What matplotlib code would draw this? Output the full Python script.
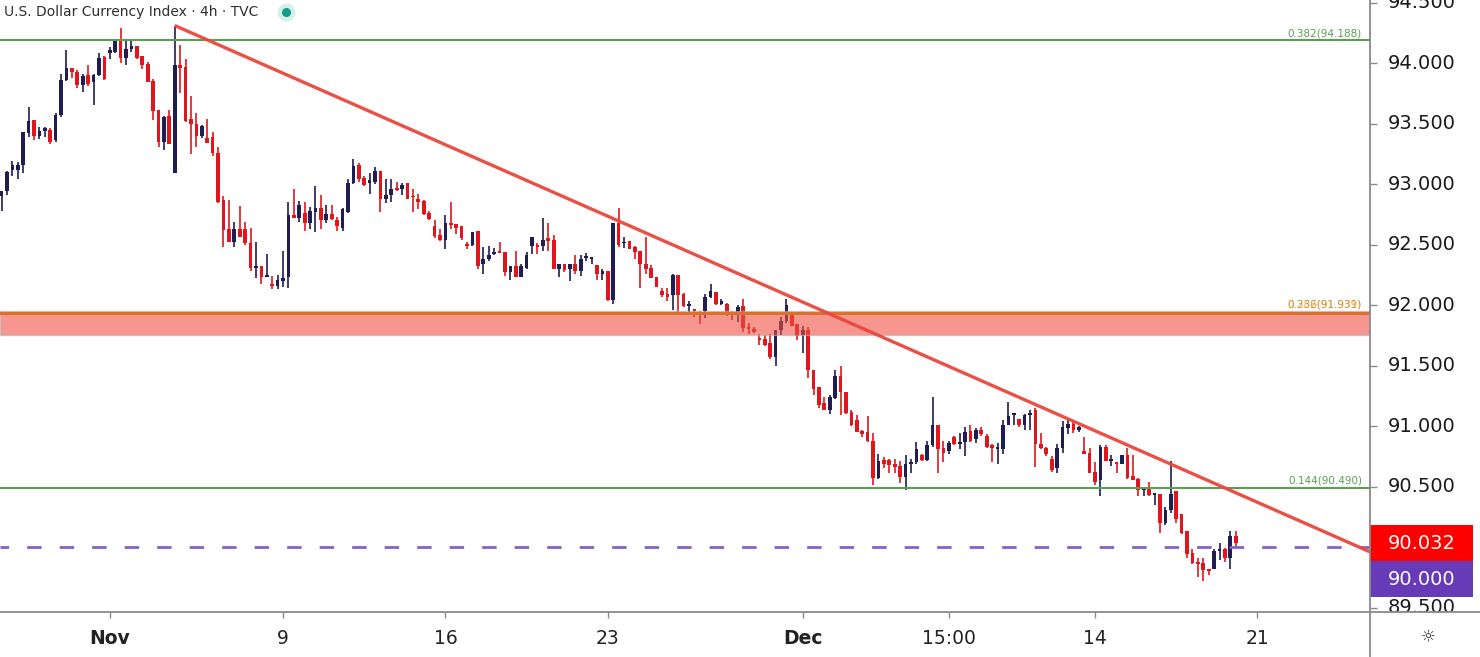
import matplotlib.pyplot as plt
import matplotlib.transforms as mtransforms
from matplotlib.lines import Line2D
from matplotlib.patches import Rectangle

# 4h candles, U.S. Dollar Currency Index
opens = [92.90, 92.94, 93.12, 93.12, 93.16, 93.42, 93.53, 93.40, 93.44, 93.45,
         93.36, 93.57, 93.86, 93.96, 93.93, 93.82, 93.90, 93.84, 93.90, 94.05,
         94.08, 94.09, 94.19, 94.04, 94.12, 94.14, 94.06, 93.99, 93.85, 93.61,
         93.35, 93.56, 93.09, 93.98, 93.97, 93.54, 93.50, 93.40, 93.38, 93.39,
         93.26, 92.87, 92.63, 92.52, 92.63, 92.63, 92.51, 92.31, 92.32, 92.23,
         92.17, 92.16, 92.20, 92.23, 92.74, 92.72, 92.76, 92.68, 92.77, 92.80,
         92.70, 92.75, 92.70, 92.64, 92.77, 93.01, 93.16, 93.05, 93.01, 93.02,
         93.11, 92.88, 92.91, 92.96, 92.96, 93.01, 92.90, 92.88, 92.86, 92.76,
         92.65, 92.58, 92.54, 92.68, 92.67, 92.65, 92.50, 92.50, 92.61, 92.34,
         92.38, 92.42, 92.45, 92.44, 92.27, 92.32, 92.23, 92.31, 92.49, 92.50,
         92.49, 92.55, 92.54, 92.30, 92.34, 92.30, 92.34, 92.28, 92.39, 92.38,
         92.33, 92.26, 92.28, 92.04, 92.68, 92.51, 92.53, 92.48, 92.45, 92.34,
         92.31, 92.23, 92.12, 92.09, 92.08, 92.25, 92.09, 91.99, 91.96, 91.94,
         91.95, 92.07, 92.11, 92.01, 92.01, 91.93, 91.92, 91.99, 91.82, 91.80,
         91.73, 91.72, 91.69, 91.57, 91.79, 91.87, 91.94, 91.84, 91.75, 91.79,
         91.46, 91.32, 91.19, 91.13, 91.23, 91.41, 91.28, 91.12, 91.05, 90.96,
         90.95, 90.88, 90.57, 90.72, 90.72, 90.69, 90.67, 90.58, 90.69, 90.70,
         90.76, 90.72, 90.84, 91.01, 90.82, 90.79, 90.91, 90.85, 90.87, 90.96,
         90.89, 90.97, 90.92, 90.84, 90.81, 90.81, 91.01, 91.09, 91.06, 91.01,
         91.09, 91.13, 90.85, 90.82, 90.73, 90.65, 90.82, 90.98, 91.02, 90.97,
         90.79, 90.78, 90.62, 90.55, 90.83, 90.71, 90.70, 90.69, 90.76, 90.59,
         90.56, 90.47, 90.49, 90.43, 90.44, 90.20, 90.31, 90.46, 90.27, 90.13,
         89.95, 89.88, 89.87, 89.82, 89.82, 89.97, 89.98, 89.91, 90.09]
highs = [92.94, 93.11, 93.19, 93.18, 93.43, 93.64, 93.53, 93.47, 93.47, 93.46,
         93.59, 93.91, 94.11, 93.96, 93.94, 93.91, 93.98, 93.91, 94.08, 94.06,
         94.13, 94.20, 94.29, 94.19, 94.20, 94.14, 94.06, 94.01, 93.87, 93.61,
         93.56, 93.61, 94.31, 94.15, 94.03, 93.73, 93.59, 93.49, 93.54, 93.43,
         93.31, 92.90, 92.87, 92.69, 92.82, 92.69, 92.64, 92.52, 92.32, 92.42,
         92.24, 92.25, 92.45, 92.85, 92.96, 92.86, 92.85, 92.81, 92.98, 92.91,
         92.83, 92.83, 92.73, 92.80, 93.04, 93.21, 93.17, 93.07, 93.09, 93.14,
         93.11, 93.04, 93.04, 93.02, 93.01, 93.01, 92.96, 92.92, 92.87, 92.78,
         92.70, 92.63, 92.74, 92.85, 92.67, 92.65, 92.52, 92.60, 92.61, 92.48,
         92.49, 92.47, 92.52, 92.44, 92.32, 92.45, 92.34, 92.44, 92.56, 92.51,
         92.72, 92.68, 92.58, 92.34, 92.34, 92.34, 92.41, 92.41, 92.43, 92.40,
         92.33, 92.30, 92.28, 92.68, 92.80, 92.56, 92.53, 92.49, 92.45, 92.56,
         92.33, 92.23, 92.14, 92.14, 92.26, 92.25, 92.10, 92.03, 91.96, 91.95,
         92.09, 92.17, 92.11, 92.05, 92.02, 91.95, 92.00, 92.05, 91.85, 91.82,
         91.76, 91.75, 91.76, 91.79, 91.90, 92.05, 91.94, 91.84, 91.83, 91.82,
         91.46, 91.32, 91.24, 91.26, 91.46, 91.50, 91.28, 91.13, 91.09, 90.97,
         91.08, 90.94, 90.77, 90.74, 90.73, 90.73, 90.71, 90.76, 90.73, 90.87,
         90.77, 90.88, 91.24, 91.01, 90.88, 90.88, 90.92, 90.94, 90.99, 91.01,
         90.98, 90.99, 90.93, 90.85, 90.86, 91.05, 91.20, 91.11, 91.06, 91.10,
         91.13, 91.15, 90.94, 90.83, 90.75, 90.85, 91.04, 91.05, 91.04, 91.00,
         90.91, 90.82, 90.70, 90.84, 90.84, 90.76, 90.70, 90.76, 90.82, 90.76,
         90.57, 90.50, 90.54, 90.45, 90.44, 90.33, 90.71, 90.46, 90.27, 90.13,
         89.98, 89.91, 89.91, 89.82, 89.98, 90.03, 89.99, 90.13, 90.13]
lows = [92.78, 92.91, 93.07, 93.04, 93.09, 93.39, 93.36, 93.37, 93.39, 93.33,
        93.35, 93.55, 93.85, 93.88, 93.79, 93.76, 93.81, 93.65, 93.89, 93.86,
        94.03, 94.08, 94.00, 93.98, 94.09, 94.03, 93.95, 93.84, 93.53, 93.31,
        93.28, 93.33, 93.09, 93.75, 93.51, 93.25, 93.31, 93.38, 93.34, 93.23,
        92.84, 92.48, 92.52, 92.48, 92.56, 92.50, 92.28, 92.22, 92.17, 92.23,
        92.13, 92.13, 92.15, 92.14, 92.72, 92.69, 92.61, 92.63, 92.60, 92.63,
        92.68, 92.70, 92.61, 92.61, 92.76, 93.00, 93.02, 92.98, 92.92, 93.00,
        92.77, 92.84, 92.85, 92.94, 92.91, 92.88, 92.77, 92.79, 92.74, 92.70,
        92.55, 92.53, 92.46, 92.63, 92.59, 92.54, 92.46, 92.49, 92.30, 92.26,
        92.36, 92.41, 92.43, 92.24, 92.21, 92.23, 92.23, 92.30, 92.42, 92.42,
        92.45, 92.45, 92.30, 92.23, 92.27, 92.20, 92.26, 92.24, 92.36, 92.34,
        92.21, 92.21, 92.03, 92.01, 92.48, 92.47, 92.46, 92.38, 92.14, 92.26,
        92.22, 92.15, 92.07, 92.03, 91.96, 91.93, 91.98, 91.93, 91.90, 91.84,
        91.89, 92.06, 92.00, 92.00, 91.91, 91.88, 91.86, 91.78, 91.76, 91.77,
        91.67, 91.66, 91.55, 91.50, 91.75, 91.85, 91.83, 91.71, 91.60, 91.40,
        91.26, 91.15, 91.13, 91.10, 91.22, 91.09, 91.10, 91.00, 90.95, 90.91,
        90.87, 90.51, 90.56, 90.65, 90.61, 90.61, 90.53, 90.47, 90.61, 90.69,
        90.71, 90.71, 90.83, 90.61, 90.70, 90.77, 90.84, 90.81, 90.75, 90.87,
        90.86, 90.92, 90.82, 90.70, 90.69, 90.77, 91.01, 91.01, 90.99, 90.97,
        90.97, 90.66, 90.81, 90.75, 90.62, 90.61, 90.78, 90.93, 90.94, 90.95,
        90.77, 90.61, 90.51, 90.42, 90.71, 90.67, 90.61, 90.69, 90.56, 90.55,
        90.42, 90.42, 90.42, 90.35, 90.12, 90.18, 90.28, 90.20, 90.11, 89.91,
        89.86, 89.75, 89.72, 89.77, 89.82, 89.89, 89.88, 89.82, 89.99]
closes = [92.94, 93.10, 93.16, 93.16, 93.43, 93.52, 93.40, 93.44, 93.46, 93.35,
          93.57, 93.86, 93.96, 93.93, 93.82, 93.89, 93.83, 93.90, 94.04, 93.87,
          94.11, 94.19, 94.04, 94.12, 94.14, 94.04, 93.98, 93.84, 93.60, 93.35,
          93.55, 93.33, 93.98, 93.96, 93.52, 93.50, 93.40, 93.48, 93.34, 93.26,
          92.85, 92.62, 92.52, 92.63, 92.56, 92.51, 92.31, 92.32, 92.23, 92.24,
          92.16, 92.21, 92.22, 92.74, 92.72, 92.83, 92.68, 92.78, 92.80, 92.70,
          92.75, 92.71, 92.65, 92.79, 93.01, 93.15, 93.04, 92.99, 93.03, 93.11,
          92.88, 92.91, 92.96, 92.95, 92.99, 92.88, 92.89, 92.85, 92.75, 92.71,
          92.57, 92.54, 92.68, 92.66, 92.64, 92.55, 92.49, 92.60, 92.32, 92.38,
          92.41, 92.44, 92.43, 92.27, 92.32, 92.23, 92.32, 92.41, 92.56, 92.48,
          92.54, 92.53, 92.30, 92.34, 92.29, 92.34, 92.28, 92.38, 92.40, 92.40,
          92.26, 92.28, 92.04, 92.68, 92.50, 92.52, 92.46, 92.44, 92.34, 92.30,
          92.22, 92.15, 92.08, 92.07, 92.25, 92.08, 91.99, 92.00, 91.95, 91.93,
          92.07, 92.12, 92.01, 92.03, 91.92, 91.92, 91.98, 91.81, 91.80, 91.78,
          91.71, 91.67, 91.57, 91.79, 91.87, 92.00, 91.83, 91.74, 91.79, 91.46,
          91.31, 91.17, 91.13, 91.24, 91.41, 91.28, 91.11, 91.01, 90.95, 90.93,
          90.88, 90.57, 90.71, 90.69, 90.68, 90.66, 90.58, 90.69, 90.70, 90.81,
          90.72, 90.84, 91.01, 90.81, 90.78, 90.86, 90.85, 90.87, 90.95, 90.88,
          90.97, 90.93, 90.83, 90.82, 90.82, 91.01, 91.08, 91.10, 91.01, 91.09,
          91.11, 90.85, 90.82, 90.77, 90.64, 90.82, 90.99, 91.02, 90.97, 90.99,
          90.77, 90.61, 90.54, 90.83, 90.71, 90.72, 90.69, 90.76, 90.57, 90.55,
          90.47, 90.49, 90.43, 90.44, 90.20, 90.31, 90.44, 90.23, 90.12, 89.94,
          89.87, 89.86, 89.81, 89.80, 89.97, 89.98, 89.91, 90.09, 90.032]

# time axis (candle index of each label)
tick_pos = [20, 52, 82, 112, 148, 175, 202, 232]
tick_labels = ["Nov", "9", "16", "23", "Dec", "15:00", "14", "21"]
bold_labels = ["Nov", "Dec"]

price_ticks = [89.5, 90.0, 90.5, 91.0, 91.5, 92.0, 92.5, 93.0, 93.5, 94.0, 94.5]

# drawings on the chart
fib_levels = [94.188, 90.490]
fib_texts = ["0.382(94.188)", "0.144(90.490)"]
zone_fib_levels = [91.939, 91.931]
zone_fib_texts = ["0.382(91.939)", "0.236(91.931)"]
zone_low, zone_high = 91.752, 91.950
round_level = 90.000
trend_x = [32, 252.8]
trend_y = [94.31, 89.96]
last_price = closes[-1]

UP = "#201d52"
DOWN = "#e0161c"
GRID = "#8a8a8a"

W, H = 1480, 657
fig = plt.figure(figsize=(W / 100, H / 100), dpi=100)
fig.patch.set_facecolor("white")
ax = fig.add_axes([0, 45 / H, 1370 / W, 612 / H])
pax = fig.add_axes([1370 / W, 45 / H, 110 / W, 612 / H])

ymin, ymax = 89.463, 94.521
ax.set_xlim(-0.28, 252.8)
ax.set_ylim(ymin, ymax)

# candles
idx = list(range(len(closes)))
cols = [UP if c >= o else DOWN for o, c in zip(opens, closes)]
ax.vlines(idx, lows, highs, colors=cols, lw=1.2, zorder=2)
bottoms = [min(o, c) for o, c in zip(opens, closes)]
heights = [max(abs(c - o), 0.015) for o, c in zip(opens, closes)]
ax.bar(idx, heights, bottom=bottoms, width=0.68, color=cols, linewidth=0, zorder=3)

# fib lines
green = "#5a9f52"
for lvl, txt in zip(fib_levels, fib_texts):
    ax.axhline(lvl, color=green, lw=1.5, zorder=4)
    ax.annotate(txt, xy=(1362 / 1370, lvl), xycoords=("axes fraction", "data"),
                xytext=(0, 1.5), textcoords="offset points", ha="right", va="bottom",
                fontsize=7.5, color=green)

# support zone
ax.axhspan(zone_low, zone_high, facecolor="#f25044", alpha=0.6, edgecolor="#b5b5b5",
           lw=1.0, zorder=5)
ax.axhline(zone_fib_levels[1], color="#d9722c", lw=2.2, zorder=6)
for lvl, txt, c in zip(zone_fib_levels, zone_fib_texts, ["#d9a520", "#e08a2c"]):
    ax.annotate(txt, xy=(1362 / 1370, zone_high), xycoords=("axes fraction", "data"),
                xytext=(0, 1.0), textcoords="offset points", ha="right", va="bottom",
                fontsize=7.5, color=c, alpha=0.85)

# round number
ax.axhline(round_level, color="#8660c8", lw=2.0, linestyle=(2.1, (5.2, 6.5)), zorder=4)

# trendline
ax.plot(trend_x, trend_y, color="#e8473d", lw=2.4, alpha=0.95, zorder=7,
        solid_capstyle="butt")

# axes styling
for sp in ax.spines.values():
    sp.set_visible(False)
ax.set_yticks([])
ax.set_xticks(tick_pos)
ax.set_xticklabels(tick_labels, fontsize=13.5, color="#222222")
for lab in ax.get_xticklabels():
    if lab.get_text() in bold_labels:
        lab.set_fontweight("bold")
ax.tick_params(axis="x", direction="out", length=4, width=1, color=GRID, pad=8)

# price scale
pax.set_ylim(ymin, ymax)
pax.set_xlim(0, 1)
for sp in pax.spines.values():
    sp.set_visible(False)
pax.set_xticks([])
pax.set_yticks(price_ticks)
pax.set_yticklabels([])
pax.tick_params(axis="y", direction="in", length=5, width=1, color=GRID)
ytr = mtransforms.blended_transform_factory(pax.transAxes, pax.transData)

box_h = 36 / 121
red_lo = last_price - box_h / 2
pur_c = last_price - box_h
for p in price_ticks:
    # labels hidden behind the price tags are not drawn
    if pur_c - box_h / 2 < p < last_price + box_h / 2:
        continue
    pax.text(0.47, p, f"{p:.3f}", transform=ytr, ha="center", va="center",
             fontsize=14, color="#1a1a1a", clip_on=True, zorder=2)

pax.add_patch(Rectangle((0, red_lo), 0.94, box_h, transform=ytr,
                        facecolor="#ff0000", edgecolor="none", zorder=5))
pax.text(0.47, last_price, f"{last_price:.3f}", transform=ytr, ha="center",
         va="center", fontsize=14, color="white", zorder=6)
pax.add_patch(Rectangle((0, pur_c - box_h / 2), 0.94, box_h, transform=ytr,
                        facecolor="#673ab7", edgecolor="none", zorder=5))
pax.text(0.47, pur_c, f"{round_level:.3f}", transform=ytr, ha="center",
         va="center", fontsize=14, color="white", zorder=6)

# frame lines
fig.add_artist(Line2D([0, 1], [45 / H, 45 / H], color=GRID, lw=1.3,
                      transform=fig.transFigure))
fig.add_artist(Line2D([1370 / W, 1370 / W], [0, 1], color=GRID, lw=1.3,
                      transform=fig.transFigure))

# header
fig.text(4 / W, 1 - 12 / H, "U.S. Dollar Currency Index · 4h · TVC", fontsize=10,
         va="center", ha="left", color="#2f2f2f")
fig.add_artist(Line2D([286 / W], [1 - 12 / H], marker="o", markersize=12,
                      color="#d6efeb", transform=fig.transFigure, lw=0))
fig.add_artist(Line2D([286 / W], [1 - 12 / H], marker="o", markersize=5.5,
                      color="#0e9f8a", transform=fig.transFigure, lw=0))
fig.text(1428 / W, 1 - 637 / H, "☼", fontsize=12, ha="center", va="center",
         color="#333333")

fig.savefig("out.png", dpi=100)
